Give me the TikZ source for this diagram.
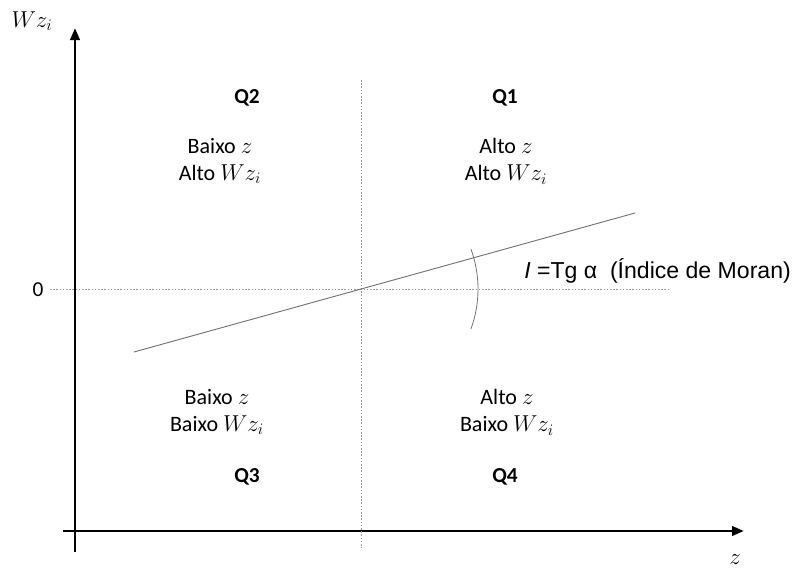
\documentclass[tikz,border=0pt]{standalone}
\usepackage{fontspec}
\setmainfont{Carlito}
\newfontfamily\arialfont{Liberation Sans}
\usetikzlibrary{arrows.meta}
\begin{document}
\begin{tikzpicture}[x=0.75pt,y=-0.75pt,
  axis/.style={line width=2.2pt,-{Triangle[length=9pt,width=7pt]}},
  guide/.style={gray!80,line width=0.5pt,dash pattern=on 1.2pt off 1.2pt},
  regline/.style={gray!90!black,line width=0.7pt},
  qlabel/.style={font=\fontsize{16}{19}\selectfont\bfseries},
  qtext/.style={font=\fontsize{16.5}{20.5}\selectfont,align=center},
  ]
\useasboundingbox (0,0) rectangle (801,568);
% axes
\coordinate (yb) at (75,552);
\coordinate (yt) at (75,28);
\coordinate (xl) at (63,531);
\coordinate (xr) at (744,531);
\draw[axis] (yb) -- (yt);
\draw[axis] (xl) -- (xr);
% guides
\coordinate (O) at (361,289);
\coordinate (vt) at (361,80);
\coordinate (vb) at (361,548);
\coordinate (hl) at (50,289);
\coordinate (hr) at (670,289);
\draw[guide] (vt) -- (vb);
\draw[guide] (hl) -- (hr);
% regression line
\coordinate (rl) at (134,352);
\coordinate (rr) at (635,213);
\draw[regline] (rl) -- (rr);
% angle arc
\draw[gray!90!black,line width=0.6pt] ([shift={(-20:87.75pt)}]O) arc[start angle=-20,end angle=20,radius=87.75pt];
% axis labels
\node (wz) at (32,21) {\fontsize{18}{21}\selectfont $Wz_i$};
\node (zl) at (735,560) {\fontsize{16}{19}\selectfont $z$};
\node (zero) at (38,290) {\fontsize{16}{19}\selectfont 0};
% quadrant labels
\node[qlabel] (q2) at (247,98) {Q2};
\node[qlabel] (q1) at (505,98) {Q1};
\node[qlabel] (q3) at (247,477) {Q3};
\node[qlabel] (q4) at (505,477) {Q4};
\node[qtext] (t2) at (220,161) {Baixo $z$\\Alto $Wz_i$};
\node[qtext] (t1) at (506,161) {Alto $z$\\Alto $Wz_i$};
\node[qtext] (t3) at (217,412) {Baixo $z$\\Baixo $Wz_i$};
\node[qtext] (t4) at (507,412) {Alto $z$\\Baixo $Wz_i$};
% Moran label
\node[anchor=base west,inner sep=0pt] (moran) at (524,278) {\arialfont\fontsize{17.3}{20}\selectfont \textit{I} =Tg α\ \ (Índice de Moran)};
\end{tikzpicture}
\end{document}
